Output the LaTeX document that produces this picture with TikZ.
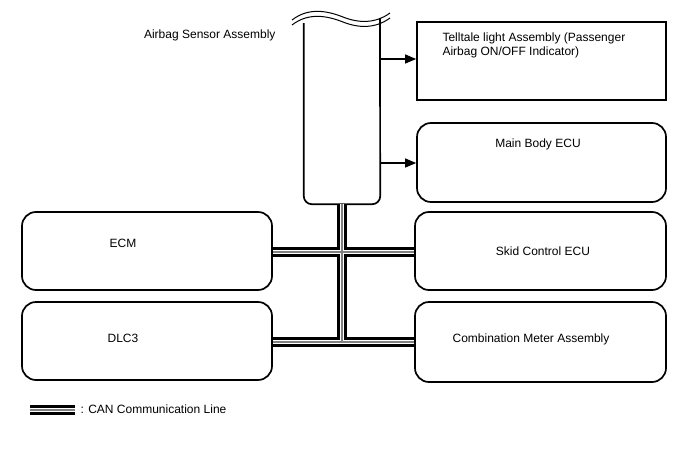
\documentclass[tikz,border=0pt]{standalone}
\usepackage{fontspec}
\setmainfont{Liberation Sans}
\usetikzlibrary{arrows.meta}
\begin{document}
\begin{tikzpicture}[x=1pt,y=-1pt,
  box/.style={draw,line width=1.7pt,rounded corners=14pt,minimum width=250pt,minimum height=78pt,inner sep=0pt},
  lbl/.style={font=\fontsize{12}{14}\selectfont},
  arr/.style={line width=1.2pt,-{Triangle[length=11pt,width=9pt]}},
  canblack/.style={line width=9.5pt,black},
  canwhite/.style={line width=4pt,white},
  cangray/.style={line width=1.6pt,black!50}]
\useasboundingbox (0,0) rectangle (688,463);
% boxes
\node[box,rounded corners=0pt,minimum width=249pt] (tl) at (541.5,61) {};
\node[lbl,anchor=west,align=left] (tltext) at (439,45) {Telltale light Assembly (Passenger\\Airbag ON/OFF Indicator)};
\node[box,minimum width=249pt,minimum height=79pt] (mb) at (541.5,162.5) {};
\node[lbl] (mbtext) at (538,144) {Main Body ECU};
\node[box] (ecm) at (147,251) {};
\node[lbl] (ecmtext) at (123,243) {ECM};
\node[box,minimum width=251pt] (skid) at (540.5,251) {};
\node[lbl] (skidtext) at (543,251) {Skid Control ECU};
\node[box] (dlc) at (147,341) {};
\node[lbl] (dlctext) at (123,338) {DLC3};
\node[box,minimum width=251pt,minimum height=80pt] (comb) at (540.5,342) {};
\node[lbl] (combtext) at (531,339) {Combination Meter Assembly};
% airbag sensor
\node[minimum width=76pt,minimum height=184pt,inner sep=0pt] (sensor) at (342,112) {};
\node[lbl,anchor=east] (sensortext) at (279,35) {Airbag Sensor Assembly};
\draw[line width=1.7pt,rounded corners=8pt] (sensor.west |- 0,23) -- (sensor.south west) -- (sensor.south east) -- (380,18);
\draw[line width=1pt] (292,20) .. controls (310,6) and (330,12) .. (343,17) .. controls (358,23) and (375,24) .. (390,13);
\draw[line width=1pt] (292,25) .. controls (310,11) and (330,17) .. (343,22) .. controls (358,28) and (375,29) .. (390,18);
% arrows
\coordinate (tlin) at (tl.west |- 0,59);
\draw[arr] (sensor.east |- tlin) -- (tlin);
\coordinate (mbin) at (mb.west |- 0,163);
\draw[arr] (sensor.east |- mbin) -- (mbin);
% CAN lines
\coordinate (j1) at (342,252);
\coordinate (j2) at (342,342);
\foreach \s in {canblack,canwhite,cangray}{
  \draw[\s] (sensor.south) -- (j2);
  \draw[\s] (ecm.east |- j1) -- (skid.west |- j1);
  \draw[\s] (dlc.east |- j2) -- (comb.west |- j2);
}
% legend
\coordinate (la) at (30,410);
\coordinate (lb) at (75,410);
\foreach \s in {canblack,canwhite,cangray}{\draw[\s] (la) -- (lb);}
\node[lbl,anchor=west] (legend) at (77,409) {: CAN Communication Line};
\end{tikzpicture}
\end{document}
